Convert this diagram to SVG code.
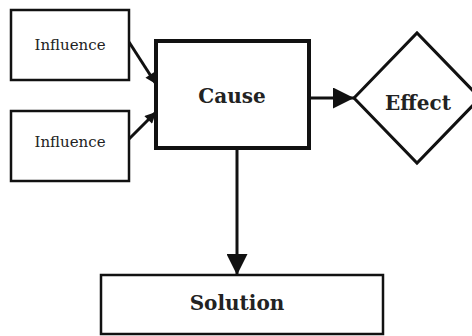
<svg xmlns="http://www.w3.org/2000/svg" width="472" height="336" viewBox="0 0 472 336">
<defs>
<style>
.box{fill:#fff;stroke:#111;stroke-width:2.5}
.thick{fill:#fff;stroke:#111;stroke-width:4}
.t{font-family:"DejaVu Serif","Liberation Serif",serif;fill:#222;text-anchor:middle}
.small{font-size:15px}
.big{font-size:20px;font-weight:bold}
.conn{stroke:#111;stroke-width:3;fill:none}
</style>
<marker id="ah" viewBox="0 0 10 10" refX="10" refY="5" markerWidth="14" markerHeight="11" markerUnits="userSpaceOnUse" orient="auto">
<path d="M0,0 L10,5 L0,10 Z" fill="#111"/>
</marker>
<marker id="big" viewBox="0 0 10 10" refX="10" refY="5" markerWidth="32" markerHeight="21" markerUnits="userSpaceOnUse" orient="auto">
<path d="M0,0 L10,5 L0,10 Z" fill="#111"/>
</marker>
</defs>
<rect width="472" height="336" fill="#fff"/>
<g id="connectors">
<line class="conn" x1="129" y1="42" x2="156" y2="84" marker-end="url(#ah)"/>
<line class="conn" x1="129" y1="139" x2="156" y2="112" marker-end="url(#ah)"/>
<line class="conn" x1="310" y1="98" x2="354" y2="98" marker-end="url(#big)"/>
<line class="conn" x1="237" y1="149" x2="237" y2="275" marker-end="url(#big)"/>
</g>
<g id="influence1">
<rect class="box" x="11" y="10" width="118" height="70"/>
<text class="t small" x="70" y="50">Influence</text>
</g>
<g id="influence2">
<rect class="box" x="11" y="111" width="118" height="70"/>
<text class="t small" x="70" y="147">Influence</text>
</g>
<g id="cause">
<rect class="thick" x="156" y="41" width="153" height="107"/>
<text class="t big" x="232" y="103">Cause</text>
</g>
<g id="effect">
<polygon class="box" points="354,98 417,33 480,98 417,163" style="stroke-width:3"/>
<text class="t big" x="418" y="110">Effect</text>
</g>
<g id="solution">
<rect class="box" x="101" y="275" width="282" height="59"/>
<text class="t big" x="237" y="310">Solution</text>
</g>
</svg>
